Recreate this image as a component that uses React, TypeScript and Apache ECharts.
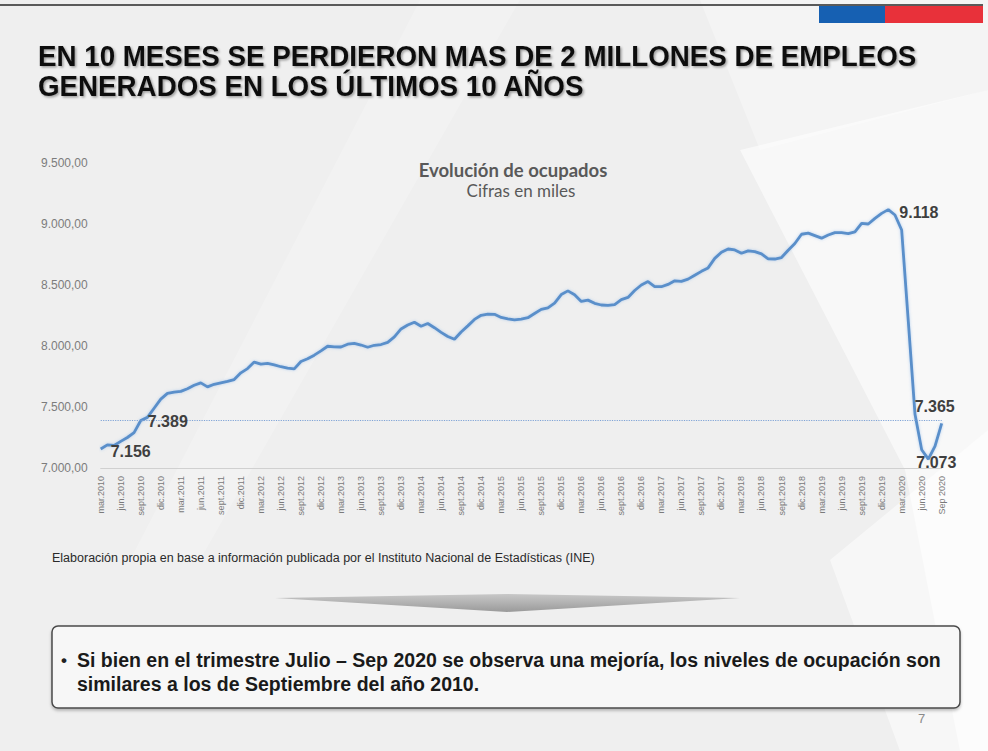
import React, { useEffect, useRef } from "react";
import * as echarts from "echarts";

// ---- Data ----
const monthNames = ["ene", "feb", "mar", "abr", "may", "jun", "jul", "ago", "sept", "oct", "nov", "dic"];
const startYear = 2010;
const startMonth = 2; // mar
const lastLabel = "Sep 2020";

// Ocupados (miles), trimestres móviles mar 2010 – sep 2020
const ocupados = [
  7156, 7190, 7185, 7218, 7250, 7290, 7389, 7415, 7490, 7565, 7612, 7622,
  7628, 7650, 7678, 7698, 7665, 7686, 7698, 7710, 7725, 7780, 7815, 7868,
  7852, 7857, 7845, 7830, 7818, 7812, 7873, 7895, 7925, 7960, 7998, 7993,
  7992, 8015, 8022, 8008, 7990, 8006, 8012, 8030, 8075, 8140, 8172, 8195,
  8162, 8184, 8150, 8112, 8078, 8055, 8115, 8165, 8218, 8252, 8262, 8260,
  8234, 8222, 8214, 8220, 8232, 8266, 8300, 8313, 8352, 8422, 8452, 8420,
  8365, 8376, 8350, 8336, 8333, 8340, 8380, 8398, 8455, 8500, 8528, 8487,
  8486, 8505, 8534, 8530, 8548, 8580, 8612, 8640, 8718, 8768, 8795, 8787,
  8760, 8780, 8773, 8755, 8714, 8713, 8725, 8785, 8840, 8916, 8925, 8905,
  8884, 8910, 8929, 8929, 8921, 8935, 9005, 9000, 9046, 9087, 9118, 9074,
  8951, 8200, 7440, 7150, 7073, 7180, 7365,
];

const labeledPoints = [0, 6, 118, 124, 126];
const referenceValue = 7389;

const yTicks = [7000, 7500, 8000, 8500, 9000, 9500];

const categories = ocupados.map((_, i) => {
  if (i === ocupados.length - 1) return lastLabel;
  const m = startMonth + i;
  return monthNames[m % 12] + "." + (startYear + Math.floor(m / 12));
});

const fmtThousands = (v: number) => {
  const s = Math.round(v).toString();
  return s.replace(/\B(?=(\d{3})+(?!\d))/g, ".");
};

const labelStyles: Record<number, any> = {
  0: { position: "right", distance: 10, offset: [0, 3] },
  6: { position: "right", distance: 7, offset: [0, 1] },
  118: { position: "right", distance: 11, offset: [0, 3] },
  124: { position: "inside", offset: [8, 3] },
  126: { position: "top", distance: 9, offset: [-7, 0] },
};

const titleShadow = {
  textShadowColor: "rgba(0,0,0,0.35)",
  textShadowOffsetX: 1.5,
  textShadowOffsetY: 1.5,
  textShadowBlur: 2,
};

export default function App() {
  const ref = useRef<HTMLDivElement>(null);
  useEffect(() => {
    if (!ref.current) return;
    const chart = echarts.init(ref.current, null, { renderer: "svg" });
    const option: any = {
      animation: false,
      backgroundColor: "#efefef",
      grid: {
        left: 100.7,
        right: 46.3,
        top: 163,
        bottom: 283,
        containLabel: false,
        outerBoundsMode: "none",
      },
      xAxis: {
        type: "category",
        data: categories,
        boundaryGap: false,
        axisLine: { show: true, lineStyle: { color: "#d0d0d0", width: 1 } },
        axisTick: { show: false },
        axisLabel: {
          interval: 2,
          rotate: 90,
          margin: 8,
          fontSize: 9,
          color: "#7a7a7a",
          fontFamily: "Liberation Sans",
        },
        splitLine: { show: false },
      },
      yAxis: {
        type: "value",
        min: yTicks[0],
        max: yTicks[yTicks.length - 1],
        interval: 500,
        axisLine: { show: false },
        axisTick: { show: false },
        splitLine: { show: false },
        axisLabel: {
          margin: 13,
          fontSize: 12,
          color: "#7c7c7c",
          fontFamily: "Liberation Sans",
          formatter: (v: number) => fmtThousands(v) + ",00",
        },
      },
      series: [
        {
          type: "line",
          data: ocupados,
          showSymbol: false,
          symbol: "none",
          lineStyle: { color: "#5a8fca", width: 2.8, shadowColor: "rgba(120,170,230,0.5)", shadowBlur: 3 },
          z: 3,
          markLine: {
            silent: true,
            symbol: "none",
            label: { show: false },
            lineStyle: { type: "dotted", color: "#7fa3d6", width: 1.2 },
            data: [{ yAxis: referenceValue }],
          },
          markPoint: {
            symbol: "circle",
            symbolSize: 0,
            itemStyle: { color: "transparent" },
            data: labeledPoints.map((i) => ({
              coord: [i, ocupados[i]],
              value: ocupados[i],
              label: {
                show: true,
                formatter: fmtThousands(ocupados[i]),
                fontSize: 16,
                fontWeight: "bold",
                color: "#3f3f3f",
                fontFamily: "Liberation Sans",
                ...labelStyles[i],
              },
            })),
          },
        },
      ],
      graphic: [
        // background light shapes
        {
          type: "polygon",
          silent: true,
          z: -10,
          shape: { points: [[740, 150], [988, 90], [988, 751], [960, 751], [905, 470]] },
          style: { fill: "rgba(255,255,255,0.55)" },
        },
        {
          type: "polygon",
          silent: true,
          z: -10,
          shape: { points: [[420, 0], [520, 0], [200, 560], [130, 560]] },
          style: { fill: "rgba(255,255,255,0.2)" },
        },
        {
          type: "polygon",
          silent: true,
          z: -10,
          shape: { points: [[700, 0], [988, 0], [988, 90], [760, 150]] },
          style: { fill: "rgba(255,255,255,0.35)" },
        },
        {
          type: "polygon",
          silent: true,
          z: -10,
          shape: { points: [[830, 560], [988, 430], [988, 751], [900, 751]] },
          style: { fill: "rgba(255,255,255,0.5)" },
        },
        // top line
        {
          type: "rect",
          silent: true,
          shape: { x: 0, y: 4, width: 983, height: 2 },
          style: { fill: "#5a5a5a" },
        },
        // flag
        {
          type: "rect",
          silent: true,
          shape: { x: 819, y: 6, width: 66, height: 17 },
          style: { fill: "#1660b2" },
        },
        {
          type: "rect",
          silent: true,
          shape: { x: 885, y: 6, width: 98, height: 17 },
          style: { fill: "#e8313a" },
        },
        // main title
        {
          type: "text",
          silent: true,
          x: 38,
          y: 41,
          scaleX: 0.925,
          style: {
            text: "EN 10 MESES SE PERDIERON MAS DE 2 MILLONES DE EMPLEOS",
            font: "bold 30px 'Liberation Sans', Arial, sans-serif",
            fill: "#111111",
            ...titleShadow,
            textVerticalAlign: "top",
          },
        },
        {
          type: "text",
          silent: true,
          x: 38,
          y: 71,
          scaleX: 0.925,
          style: {
            text: "GENERADOS EN LOS ÚLTIMOS 10 AÑOS",
            font: "bold 30px 'Liberation Sans', Arial, sans-serif",
            fill: "#111111",
            ...titleShadow,
            textVerticalAlign: "top",
          },
        },
        // chart title
        {
          type: "text",
          silent: true,
          x: 513,
          y: 170,
          style: {
            text: "Evolución de ocupados",
            font: "bold 18.5px Lato, sans-serif",
            fill: "#595959",
            textAlign: "center",
            textVerticalAlign: "middle",
          },
        },
        {
          type: "text",
          silent: true,
          x: 521,
          y: 190.5,
          style: {
            text: "Cifras en miles",
            font: "17px Lato, sans-serif",
            fill: "#595959",
            textAlign: "center",
            textVerticalAlign: "middle",
          },
        },
        // source
        {
          type: "text",
          silent: true,
          x: 52,
          y: 558,
          style: {
            text: "Elaboración propia en base a información publicada por el Instituto Nacional de Estadísticas (INE)",
            font: "12.5px 'Liberation Sans', Arial, sans-serif",
            fill: "#2a2a2a",
            textVerticalAlign: "middle",
          },
        },
        // arrow shape
        {
          type: "polygon",
          silent: true,
          shape: { points: [[275, 598], [507, 594], [740, 598], [507, 612]] },
          style: {
            fill: new echarts.graphic.LinearGradient(0, 0, 0, 1, [
              { offset: 0, color: "#c8c8c8" },
              { offset: 1, color: "#9a9a9a" },
            ]),
          },
        },
        // box
        {
          type: "rect",
          silent: true,
          shape: { x: 52, y: 626, width: 908, height: 82, r: 6 },
          style: {
            fill: "#f7f7f7",
            stroke: "#4a4a4a",
            lineWidth: 1.5,
            shadowColor: "rgba(0,0,0,0.25)",
            shadowBlur: 3,
            shadowOffsetY: 2,
          },
        },
        {
          type: "text",
          silent: true,
          x: 61,
          y: 660,
          style: {
            text: "•",
            font: "bold 17px 'Liberation Sans', Arial, sans-serif",
            fill: "#222222",
            textVerticalAlign: "middle",
          },
        },
        {
          type: "text",
          silent: true,
          x: 77,
          y: 660,
          style: {
            text: "Si bien en el trimestre Julio – Sep 2020 se observa una mejoría, los niveles de ocupación son",
            font: "bold 19.5px 'Liberation Sans', Arial, sans-serif",
            fill: "#1a1a1a",
            textVerticalAlign: "middle",
          },
        },
        {
          type: "text",
          silent: true,
          x: 77,
          y: 684,
          style: {
            text: "similares a los de Septiembre del año 2010.",
            font: "bold 19.5px 'Liberation Sans', Arial, sans-serif",
            fill: "#1a1a1a",
            textVerticalAlign: "middle",
          },
        },
        {
          type: "text",
          silent: true,
          x: 918,
          y: 718,
          style: {
            text: "7",
            font: "13px 'Liberation Sans', Arial, sans-serif",
            fill: "#8a8a8a",
            textVerticalAlign: "middle",
          },
        },
      ],
    };
    chart.setOption(option);
    return () => chart.dispose();
  }, []);
  return (
    <div
      ref={ref}
      style={{ position: "absolute", left: 0, top: 0, width: 988, height: 751 }}
    />
  );
}
